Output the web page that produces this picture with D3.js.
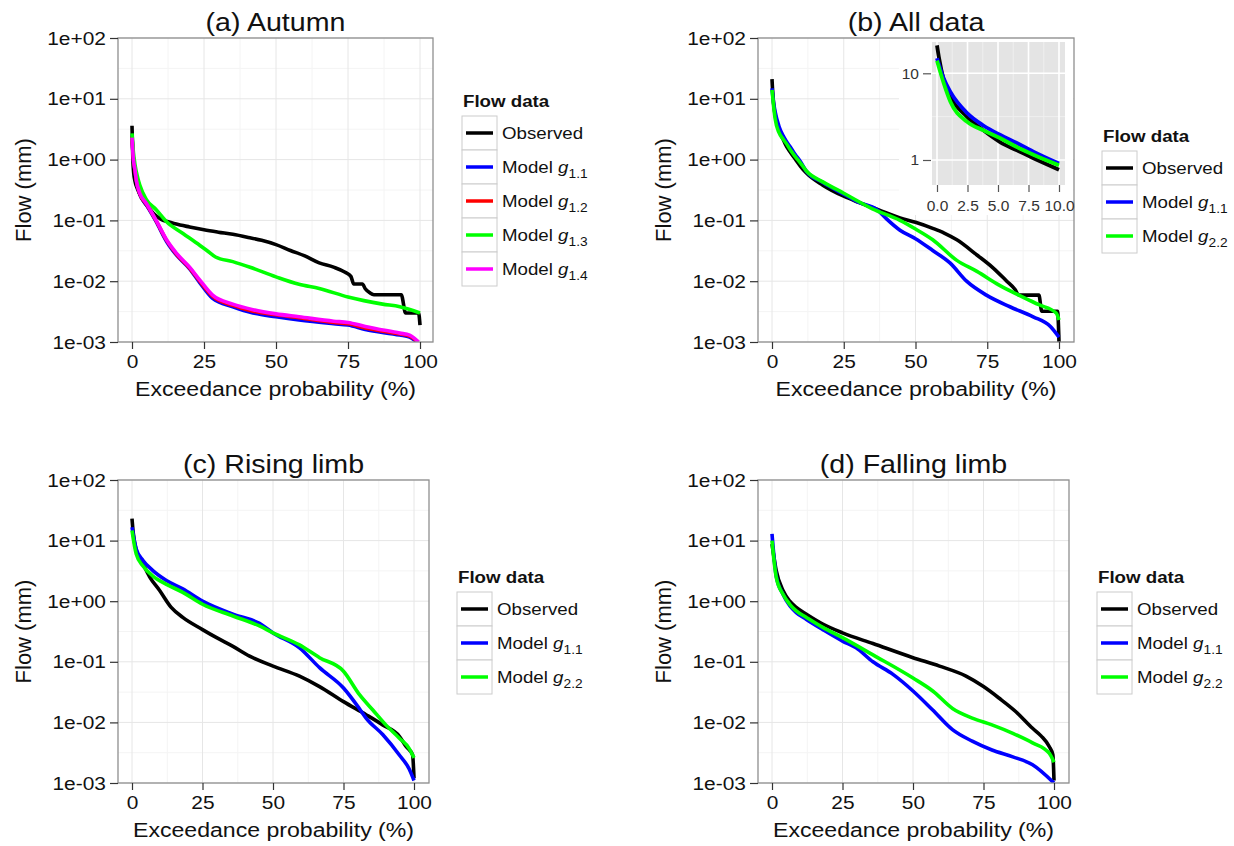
<!DOCTYPE html>
<html lang="en">
<head>
<meta charset="UTF-8">
<title>Flow duration curves</title>
<script src="https://d3js.org/d3.v7.min.js"></script>
<style>
body { margin: 0; background: #fff; }
text { font-family: "Liberation Sans", Arial, sans-serif; }
</style>
</head>
<body>
<script>
// ---- data: [exceedance probability %, flow mm] ----

// (a) Autumn
var autumnObs = [[0,3.6],[0.3,1.0],[0.6,0.6],[1,0.45],[2,0.32],[3,0.25],[5,0.18],[7.5,0.13],[10,0.105],[12.5,0.095],[15,0.088],[20,0.078],[25,0.07],[30,0.064],[35,0.059],[40,0.053],[45,0.047],[50,0.04],[55,0.032],[60,0.026],[65,0.02],[70,0.017],[74,0.014],[76,0.012],[77,0.009],[80,0.009],[81,0.0075],[82.5,0.0065],[84,0.006],[93.5,0.006],[95,0.003],[99.5,0.003],[100,0.0019]];
var autumnG11 = [[0,2.5],[0.5,1.0],[1,0.68],[1.5,0.45],[2.7,0.27],[5,0.18],[8.4,0.095],[12,0.045],[15.4,0.027],[20,0.016],[23.5,0.0095],[28,0.0052],[35,0.0038],[42,0.003],[50,0.0026],[58,0.0023],[70,0.002],[75,0.0019],[81,0.0016],[93,0.0013],[96.4,0.0012],[99,0.001]];
var autumnG12 = [[0,2.4],[0.5,1.0],[1,0.69],[1.5,0.455],[2.7,0.275],[5,0.185],[8.4,0.098],[12,0.047],[15.4,0.028],[20,0.0165],[23.5,0.01],[28,0.0056],[35,0.004],[42,0.0032],[50,0.0028],[58,0.0025],[70,0.0021],[75,0.002],[81,0.0017],[93,0.00135],[96.4,0.00125],[99.3,0.001]];
var autumnG13 = [[0,2.7],[0.5,1.3],[1,0.85],[2,0.5],[2.7,0.38],[5,0.22],[8.4,0.15],[12,0.095],[17.7,0.061],[23.5,0.039],[26,0.032],[29,0.025],[35,0.021],[41,0.017],[50,0.0118],[58,0.0089],[65,0.0076],[75,0.0055],[87,0.0042],[93,0.0038],[100,0.003]];
var autumnG14 = [[0,2.3],[0.5,1.0],[1,0.7],[1.5,0.46],[2.7,0.28],[5,0.19],[8.4,0.1],[12,0.048],[15.4,0.029],[20,0.017],[23.5,0.0105],[28,0.0059],[35,0.0042],[42,0.0034],[50,0.0029],[58,0.0026],[70,0.0022],[75,0.0021],[81,0.0018],[93,0.0014],[96.4,0.0013],[99.5,0.001]];

// (b) All data
var allObs = [[0,21],[0.15,15.5],[0.55,8.4],[1.1,5.4],[2.45,3.16],[3.8,2.2],[5.2,1.6],[6.5,1.3],[7.9,1.05],[10,0.77],[12,0.6],[17.7,0.38],[25,0.25],[30,0.2],[37,0.15],[44.6,0.11],[50,0.093],[56,0.074],[60,0.062],[64.4,0.048],[71.4,0.027],[77,0.0166],[81.8,0.01],[84.7,0.0073],[86,0.0059],[93,0.0059],[94,0.0032],[99.5,0.0032],[100,0.001]];
var allG11 = [[0,14.9],[0.55,8.7],[1.1,6.1],[2.45,3.5],[3.8,2.5],[5.2,1.94],[6.5,1.58],[7.9,1.25],[10,0.91],[12,0.64],[17.7,0.42],[25,0.27],[30,0.2],[36.8,0.148],[40,0.105],[44.6,0.069],[50,0.05],[56,0.032],[62,0.02],[67.8,0.01],[74.7,0.0059],[82.9,0.0038],[91,0.0026],[97,0.0018],[100,0.0012]];
var allG22 = [[0,14],[0.55,7.7],[1.1,4.7],[2.45,2.77],[3.8,2.2],[5.2,1.78],[6.5,1.42],[7.9,1.15],[10,0.87],[12,0.65],[17.7,0.43],[25,0.28],[35,0.155],[44.6,0.1],[50,0.072],[56,0.048],[64.4,0.022],[71.4,0.0145],[79,0.0087],[86,0.0059],[93,0.0041],[99,0.003],[100,0.0023]];

// (c) Rising limb
var riseObs = [[0,23],[0.35,14.6],[1.5,6.8],[3.9,4.1],[6.3,2.5],[9.8,1.5],[13.9,0.79],[18,0.54],[25,0.34],[30,0.25],[35.8,0.18],[41.7,0.124],[50,0.085],[59.4,0.058],[66.5,0.039],[75,0.022],[83,0.0134],[88.9,0.0091],[94.8,0.0059],[97.2,0.004],[99.5,0.0029],[100,0.0012]];
var riseG11 = [[0,16.6],[1.5,7.3],[3.9,4.7],[7.4,3.2],[12.2,2.2],[18,1.6],[25,1.0],[35.8,0.61],[45.2,0.43],[50,0.3],[59.4,0.17],[66.5,0.08],[75,0.037],[80.6,0.017],[83,0.0118],[88.9,0.0063],[94.8,0.0029],[98.3,0.0017],[100,0.0011]];
var riseG22 = [[0,14.7],[1.5,6],[3.9,3.8],[7.4,2.6],[12.2,1.9],[18,1.4],[25,0.89],[35.8,0.57],[45.2,0.39],[50,0.3],[59.4,0.19],[66.5,0.117],[75,0.07],[80.6,0.029],[85.4,0.016],[90,0.0091],[94.8,0.0055],[98.3,0.0037],[100,0.0026]];

// (d) Falling limb
var fallObs = [[0,8.8],[1.5,3.2],[3.9,1.5],[6.3,1.0],[8.6,0.79],[12.2,0.61],[18,0.42],[25,0.3],[35.8,0.2],[50,0.117],[59.4,0.085],[68.8,0.058],[75,0.039],[80.6,0.025],[86.5,0.015],[92.4,0.008],[95.4,0.006],[98.3,0.004],[99.6,0.0029],[100,0.0011]];
var fallG11 = [[0,12.9],[1.5,2.6],[3.9,1.3],[6.3,0.84],[8.6,0.65],[12.2,0.5],[18,0.34],[25,0.22],[29.8,0.17],[35.8,0.1],[42.9,0.062],[50,0.033],[57,0.016],[64,0.0076],[71,0.0049],[78,0.0035],[85.4,0.0027],[92.4,0.002],[100,0.001]];
var fallG22 = [[0,10],[1.5,2.5],[3.9,1.3],[6.3,0.89],[8.6,0.69],[12.2,0.54],[18,0.37],[25,0.25],[35.8,0.13],[50,0.054],[57,0.033],[64,0.017],[71,0.0118],[78,0.0091],[85.4,0.0066],[92.4,0.0046],[98.3,0.0031],[100,0.0022]];

// axis breaks and labels
var xTicks = [0, 25, 50, 75, 100];
var xMinor = [12.5, 37.5, 62.5, 87.5];
var yTicks = [1e2, 1e1, 1, 1e-1, 1e-2, 1e-3];
var yTickLabels = ["1e+02", "1e+01", "1e+00", "1e-01", "1e-02", "1e-03"];
var yMinor = [Math.pow(10, 1.5), Math.pow(10, 0.5), Math.pow(10, -0.5), Math.pow(10, -1.5), Math.pow(10, -2.5)];
var insetXTicks = [0, 2.5, 5, 7.5, 10];
var insetXLabels = ["0.0", "2.5", "5.0", "7.5", "10.0"];
var insetXMinor = [1.25, 3.75, 6.25, 8.75];
var insetYTicks = [1, 10];
var insetYMinor = [Math.sqrt(10)];

var colObs = "#000000", colG11 = "#0000ff", colG12 = "#ff0000", colG13 = "#00ff00", colG14 = "#ff00ff", colG22 = "#00ff00";

// text in the source picture is a little wider than it is tall
var STRETCH = "scale(1.1,1)";
var LINE_W = 3.6;

var svg = d3.select("body").append("svg")
  .attr("width", 1234)
  .attr("height", 846);

var panels = [
  { key: "a", title: "(a) Autumn", left: 118, right: 433, top: 38, bottom: 342, x0: 132, x100: 420,
    legend: { x: 462, y: 116 },
    series: [
      { name: "Observed", color: colObs, data: autumnObs },
      { name: "Model ", sub: "1.1", color: colG11, data: autumnG11 },
      { name: "Model ", sub: "1.2", color: colG12, data: autumnG12 },
      { name: "Model ", sub: "1.3", color: colG13, data: autumnG13 },
      { name: "Model ", sub: "1.4", color: colG14, data: autumnG14 }
    ] },
  { key: "b", title: "(b) All data", left: 758, right: 1074, top: 38, bottom: 342, x0: 772, x100: 1059,
    legend: { x: 1102, y: 151 }, inset: true,
    series: [
      { name: "Observed", color: colObs, data: allObs },
      { name: "Model ", sub: "1.1", color: colG11, data: allG11 },
      { name: "Model ", sub: "2.2", color: colG22, data: allG22 }
    ] },
  { key: "c", title: "(c) Rising limb", left: 118, right: 429, top: 480, bottom: 783, x0: 132, x100: 414,
    legend: { x: 457, y: 592 },
    series: [
      { name: "Observed", color: colObs, data: riseObs },
      { name: "Model ", sub: "1.1", color: colG11, data: riseG11 },
      { name: "Model ", sub: "2.2", color: colG22, data: riseG22 }
    ] },
  { key: "d", title: "(d) Falling limb", left: 758, right: 1069, top: 480, bottom: 783, x0: 772, x100: 1054,
    legend: { x: 1097, y: 592 },
    series: [
      { name: "Observed", color: colObs, data: fallObs },
      { name: "Model ", sub: "1.1", color: colG11, data: fallG11 },
      { name: "Model ", sub: "2.2", color: colG22, data: fallG22 }
    ] }
];

panels.forEach(drawPanel);

function drawPanel(p) {
  var g = svg.append("g");
  var x = d3.scaleLinear().domain([0, 100]).range([p.x0, p.x100]);
  var y = d3.scaleLog().domain([1e-3, 1e2]).range([p.bottom, p.top]);
  var w = p.right - p.left, h = p.bottom - p.top;

  // grid
  g.selectAll(".vmin").data(xMinor).enter().append("line")
    .attr("x1", d => x(d)).attr("x2", d => x(d)).attr("y1", p.top).attr("y2", p.bottom)
    .attr("stroke", "#f4f4f4").attr("stroke-width", 1);
  g.selectAll(".hmin").data(yMinor).enter().append("line")
    .attr("y1", d => y(d)).attr("y2", d => y(d)).attr("x1", p.left).attr("x2", p.right)
    .attr("stroke", "#f4f4f4").attr("stroke-width", 1);
  g.selectAll(".vmaj").data(xTicks).enter().append("line")
    .attr("x1", d => x(d)).attr("x2", d => x(d)).attr("y1", p.top).attr("y2", p.bottom)
    .attr("stroke", "#e6e6e6").attr("stroke-width", 1);
  g.selectAll(".hmaj").data(yTicks).enter().append("line")
    .attr("y1", d => y(d)).attr("y2", d => y(d)).attr("x1", p.left).attr("x2", p.right)
    .attr("stroke", "#e6e6e6").attr("stroke-width", 1);

  // lines
  svg.append("clipPath").attr("id", "clip-" + p.key)
    .append("rect").attr("x", p.left).attr("y", p.top).attr("width", w).attr("height", h);

  var line = d3.line()
    .x(d => x(d[0]))
    .y(d => y(d[1]))
    .curve(d3.curveMonotoneX);

  g.append("g").attr("clip-path", "url(#clip-" + p.key + ")")
    .selectAll("path").data(p.series).enter().append("path")
    .attr("d", s => line(s.data))
    .attr("fill", "none")
    .attr("stroke", s => s.color)
    .attr("stroke-width", LINE_W)
    .attr("stroke-linejoin", "round");

  if (p.inset) drawInset(p);

  // panel border
  g.append("rect")
    .attr("x", p.left).attr("y", p.top).attr("width", w).attr("height", h)
    .attr("fill", "none").attr("stroke", "#8f8f8f").attr("stroke-width", 1.3);

  // axes
  var xa = g.append("g")
    .attr("transform", "translate(0," + p.bottom + ")")
    .call(d3.axisBottom(x).tickValues(xTicks).tickSize(7).tickPadding(6));
  var ya = g.append("g")
    .attr("transform", "translate(" + p.left + ",0)")
    .call(d3.axisLeft(y).tickValues(yTicks).tickSize(8).tickPadding(3)
      .tickFormat((d, i) => yTickLabels[i]));
  [xa, ya].forEach(function(a) {
    a.select(".domain").remove();
    a.attr("font-family", null);
    a.selectAll("line").attr("stroke", "#333").attr("stroke-width", 1.2);
    a.selectAll("text")
      .style("font-size", "19px")
      .attr("fill", "#111")
      .attr("transform", STRETCH);
  });

  // titles
  var cx = (p.left + p.right) / 2;
  g.append("text")
    .attr("transform", "translate(" + cx + "," + (p.top - 7) + ") " + STRETCH)
    .attr("text-anchor", "middle").style("font-size", "26px").attr("fill", "#111")
    .text(p.title);
  g.append("text")
    .attr("transform", "translate(" + cx + "," + (p.bottom + 54) + ") " + STRETCH)
    .attr("text-anchor", "middle").style("font-size", "21px").attr("fill", "#111")
    .text("Exceedance probability (%)");
  g.append("text")
    .attr("transform", "translate(" + (p.left - 87) + "," + ((p.top + p.bottom) / 2) + ") rotate(-90)")
    .attr("text-anchor", "middle").style("font-size", "22px").attr("fill", "#111")
    .text("Flow (mm)");

  drawLegend(p.legend, p.series);
}

function drawInset(p) {
  var L = 932, R = 1065, T = 42, B = 185;
  var g = svg.append("g");
  // white viewport behind the inset hides the main grid
  g.append("rect").attr("x", 899).attr("y", p.top + 1).attr("width", p.right - 900).attr("height", 214 - p.top)
    .attr("fill", "#fff");
  g.append("rect").attr("x", L).attr("y", T).attr("width", R - L).attr("height", B - T)
    .attr("fill", "#e4e4e4");

  var x = d3.scaleLinear().domain([0, 10]).range([937, 1059]);
  var y = d3.scaleLog().domain([1, 10]).range([160, 73.3]);

  g.selectAll(".ivmin").data(insetXMinor).enter().append("line")
    .attr("x1", d => x(d)).attr("x2", d => x(d)).attr("y1", T).attr("y2", B)
    .attr("stroke", "#f2f2f2").attr("stroke-width", 0.8);
  g.selectAll(".ihmin").data(insetYMinor).enter().append("line")
    .attr("y1", d => y(d)).attr("y2", d => y(d)).attr("x1", L).attr("x2", R)
    .attr("stroke", "#f2f2f2").attr("stroke-width", 0.8);
  g.selectAll(".ivmaj").data(insetXTicks).enter().append("line")
    .attr("x1", d => x(d)).attr("x2", d => x(d)).attr("y1", T).attr("y2", B)
    .attr("stroke", "#fff").attr("stroke-width", 1.6);
  g.selectAll(".ihmaj").data(insetYTicks).enter().append("line")
    .attr("y1", d => y(d)).attr("y2", d => y(d)).attr("x1", L).attr("x2", R)
    .attr("stroke", "#fff").attr("stroke-width", 1.6);

  svg.append("clipPath").attr("id", "clip-inset")
    .append("rect").attr("x", L).attr("y", T).attr("width", R - L).attr("height", B - T);

  var line = d3.line()
    .x(d => x(d[0]))
    .y(d => y(d[1]))
    .curve(d3.curveMonotoneX);

  g.append("g").attr("clip-path", "url(#clip-inset)")
    .selectAll("path").data(p.series).enter().append("path")
    .attr("d", s => line(s.data.filter(d => d[0] <= 10)))
    .attr("fill", "none")
    .attr("stroke", s => s.color)
    .attr("stroke-width", LINE_W + 0.2)
    .attr("stroke-linejoin", "round");

  var xa = g.append("g")
    .attr("transform", "translate(0," + B + ")")
    .call(d3.axisBottom(x).tickValues(insetXTicks).tickSize(7).tickPadding(8)
      .tickFormat((d, i) => insetXLabels[i]));
  var ya = g.append("g")
    .attr("transform", "translate(" + (L - 1) + ",0)")
    .call(d3.axisLeft(y).tickValues(insetYTicks).tickSize(8).tickPadding(4)
      .tickFormat(d3.format("d")));
  [xa, ya].forEach(function(a) {
    a.select(".domain").remove();
    a.attr("font-family", null);
    a.selectAll("line").attr("stroke", "#555").attr("stroke-width", 1.2);
    a.selectAll("text").style("font-size", "15.5px").attr("fill", "#333");
  });
}

function drawLegend(lg, series) {
  var rowH = 34;
  var g = svg.append("g").attr("transform", "translate(" + lg.x + "," + lg.y + ")");
  g.append("text")
    .attr("transform", "translate(1,-9) " + STRETCH)
    .style("font-size", "17px").attr("font-weight", "bold").attr("fill", "#111")
    .text("Flow data");

  var row = g.selectAll(".row").data(series).enter().append("g")
    .attr("transform", (d, i) => "translate(0," + (i * rowH) + ")");
  row.append("rect")
    .attr("width", 35).attr("height", rowH)
    .attr("fill", "#fff").attr("stroke", "#cccccc").attr("stroke-width", 1);
  row.append("line")
    .attr("x1", 4).attr("x2", 31).attr("y1", rowH / 2).attr("y2", rowH / 2)
    .attr("stroke", d => d.color).attr("stroke-width", 3.5);
  var t = row.append("text")
    .attr("transform", "translate(40," + (rowH / 2 + 6) + ") " + STRETCH)
    .style("font-size", "17px").attr("fill", "#111");
  t.append("tspan").text(d => d.name);
  t.filter(d => d.sub).append("tspan").attr("font-style", "italic").text("g");
  t.filter(d => d.sub).append("tspan").style("font-size", "12.5px").attr("dy", 5).text(d => d.sub);
}
</script>
</body>
</html>
